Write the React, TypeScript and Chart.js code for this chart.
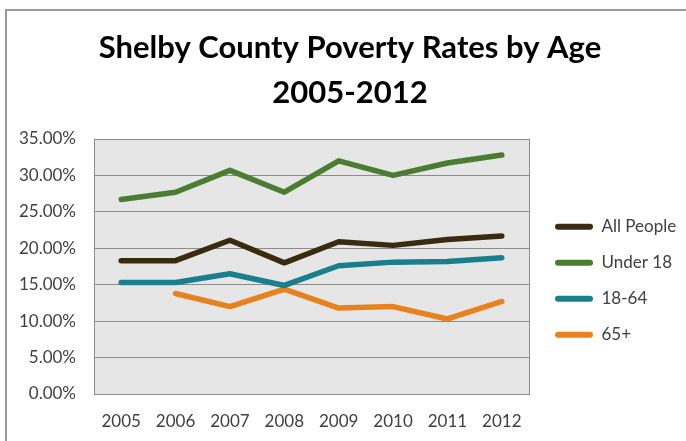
import React, { useEffect, useRef } from 'react';
import { Chart, registerables } from 'chart.js';

Chart.register(...registerables);

const years = ['2005', '2006', '2007', '2008', '2009', '2010', '2011', '2012'];
const allPeople = [18.3, 18.3, 21.1, 18.0, 20.9, 20.4, 21.2, 21.7];
const under18 = [26.7, 27.7, 30.7, 27.7, 32.0, 30.0, 31.7, 32.8];
const age18to64 = [15.3, 15.3, 16.5, 14.9, 17.6, 18.1, 18.2, 18.7];
const age65plus = [null, 13.8, 12.0, 14.4, 11.8, 12.0, 10.3, 12.7];
const seriesNames = ['All People', 'Under 18', '18-64', '65+'];
const seriesColors = ['#3a2a0e', '#4a7d32', '#1a7f8d', '#e8821e'];
const titleLines = ['Shelby County Poverty Rates by Age', '2005-2012'];
const yMin = 0;
const yMax = 35;
const yStep = 5;

const decorPlugin = {
  id: 'decor',
  beforeDraw(chart: any) {
    const { ctx, chartArea } = chart;
    ctx.save();
    ctx.fillStyle = '#ffffff';
    ctx.fillRect(0, 0, chart.width, chart.height);
    ctx.strokeStyle = '#9a9a9a';
    ctx.lineWidth = 2;
    ctx.strokeRect(6, 10, chart.width + 20, chart.height + 20);
    ctx.fillStyle = '#e6e6e6';
    ctx.fillRect(chartArea.left, chartArea.top, chartArea.right - chartArea.left, chartArea.bottom - chartArea.top);
    ctx.restore();
  },
  beforeDatasetsDraw(chart: any) {
    const { ctx, chartArea } = chart;
    ctx.save();
    ctx.strokeStyle = '#8c8c8c';
    ctx.lineWidth = 1;
    ctx.strokeRect(
      Math.round(chartArea.left) + 0.5,
      Math.round(chartArea.top) + 0.5,
      Math.round(chartArea.right - chartArea.left),
      Math.round(chartArea.bottom - chartArea.top)
    );
    ctx.restore();
  },
  afterDraw(chart: any) {
    const { ctx } = chart;
    ctx.save();
    ctx.fillStyle = '#000000';
    ctx.font = 'bold 31px Lato';
    ctx.textAlign = 'center';
    ctx.textBaseline = 'alphabetic';
    const w = ctx.measureText(titleLines[0]).width;
    const sx = Math.min(1, 506 / w);
    ctx.translate(350, 0);
    ctx.scale(sx, 1);
    ctx.fillText(titleLines[0], 0, 58);
    ctx.fillText(titleLines[1], 0, 103);
    ctx.restore();
  },
};

export default function App() {
  const ref = useRef<HTMLCanvasElement>(null);

  useEffect(() => {
    document.body.style.margin = '0';
    const seriesData = [allPeople, under18, age18to64, age65plus];
    const chart = new Chart(ref.current as HTMLCanvasElement, {
      type: 'line',
      data: {
        labels: years,
        datasets: seriesNames.map((name, i) => ({
          label: name,
          data: seriesData[i],
          borderColor: seriesColors[i],
          backgroundColor: seriesColors[i],
          borderWidth: 5.5,
          borderCapStyle: 'round',
          borderJoinStyle: 'round',
          pointRadius: 0,
          pointHoverRadius: 0,
          tension: 0,
          fill: false,
          spanGaps: false,
        })),
      },
      options: {
        animation: false,
        responsive: false,
        devicePixelRatio: 1,
        layout: { padding: { top: 139, left: 0, right: 0, bottom: 0 } },
        plugins: {
          title: { display: false },
          tooltip: { enabled: false },
          legend: {
            position: 'right',
            fullSize: false,
            maxWidth: 150,
            title: {
              display: true,
              text: ' ',
              font: { family: 'Lato', size: 12, lineHeight: 1.2 },
              padding: { top: 7, bottom: 7 },
            },
            labels: {
              boxWidth: 38,
              boxHeight: 6,
              padding: 19,
              color: '#404040',
              font: { family: 'Lato', size: 17 },
              useBorderRadius: true,
              borderRadius: 3,
              generateLabels: (c: any) =>
                c.data.datasets.map((ds: any, i: number) => ({
                  text: ds.label,
                  fillStyle: ds.borderColor,
                  strokeStyle: ds.borderColor,
                  lineWidth: 0,
                  hidden: false,
                  datasetIndex: i,
                  borderRadius: 3,
                  fontColor: '#404040',
                })),
            },
          },
        },
        scales: {
          x: {
            type: 'category',
            offset: true,
            grid: { display: false, drawTicks: false },
            border: { display: false },
            ticks: { color: '#404040', font: { family: 'Lato', size: 17 }, padding: 17, maxRotation: 0 },
            afterFit: (s: any) => { s.height = 47; },
          },
          y: {
            type: 'linear',
            position: 'left',
            min: yMin,
            max: yMax,
            grid: { color: '#8c8c8c', lineWidth: 1, drawTicks: false },
            border: { display: false },
            ticks: {
              stepSize: yStep,
              color: '#404040',
              font: { family: 'Lato', size: 17 },
              padding: 18,
              callback: (v: any) => Number(v).toFixed(2) + '%',
            },
            afterFit: (s: any) => { s.width = 94; },
          },
          spacer: {
            type: 'linear',
            position: 'right',
            display: true,
            grid: { display: false },
            border: { display: false },
            ticks: { display: false },
            afterFit: (s: any) => { s.width = 7; },
          },
        },
      } as any,
      plugins: [decorPlugin],
    });
    return () => chart.destroy();
  }, []);

  return (
    <div style={{ position: 'absolute', left: 0, top: 0, width: 686, height: 441 }}>
      <canvas ref={ref} width={686} height={441} style={{ width: 686, height: 441 }} />
    </div>
  );
}
